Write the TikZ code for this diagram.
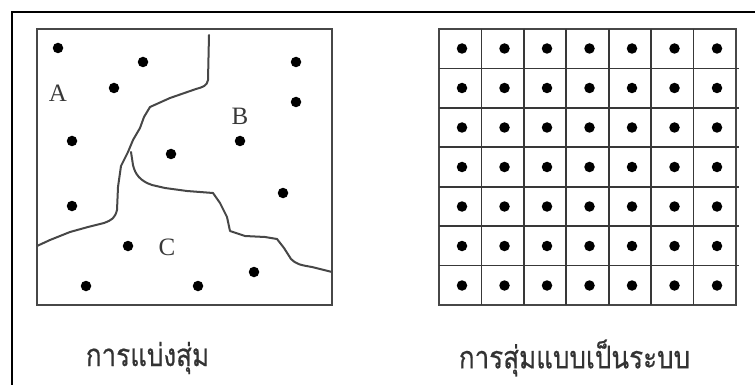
\documentclass[tikz,border=0pt]{standalone}
\usepackage{fontspec}
\setmainfont{Liberation Serif}
\newfontfamily\thaifont[Script=Thai,FakeBold=0.6]{Loma}
\begin{document}
\begin{tikzpicture}[x=1pt,y=-1pt,
  frameline/.style={line width=1.8pt,black},
  boxline/.style={line width=2pt,draw=black!72},
  curveline/.style={line width=2pt,draw=black!72,line join=round,line cap=round},
  gridline/.style={line width=1.8pt,draw=black!78},
  dot/.style={circle,fill=black,inner sep=0pt,minimum size=10.5pt},
  letter/.style={font=\fontsize{25}{27}\selectfont,text=black!78,inner sep=0pt},
  caption/.style={font=\thaifont\fontsize{26}{30}\selectfont,text=black!80,inner sep=0pt}]
\useasboundingbox (0,0) rectangle (755,385);
% outer frame
\coordinate (ftr) at (755,12);
\coordinate (ftl) at (12,12);
\coordinate (fbl) at (12,385);
\draw[frameline] (ftr) -- (ftl) -- (fbl);
% left box
\draw[boxline] (37,29) rectangle (332,305);
\draw[curveline] (209,35) -- (208,80) .. controls (207,86) and (203,87) .. (196,89)
  -- (170,98) -- (150,107) -- (144,117) -- (140,128) -- (133,140) -- (128,152)
  -- (121,166) -- (118,187) -- (117,210) .. controls (115,218) and (112,220) .. (104,223)
  -- (88,227) -- (70,232) -- (50,240) -- (37,246);
\draw[curveline] (131,152) -- (133,165) .. controls (135,174) and (140,181) .. (152,185)
  -- (165,188) -- (187,191) -- (213,193) -- (220,203) -- (227,217) -- (230,231)
  -- (245,236) -- (265,237) -- (277,239) -- (284,248) -- (291,259)
  .. controls (296,264) and (300,265) .. (312,267) -- (332,272);
\foreach \n/\x/\y in {a1/58/48,a2/143/62,a3/114/88,a4/296/62,a5/296/102,a6/72/141,a7/240/141,
  a8/171/154,a9/283/193,a10/72/206,a11/128/246,a12/86/286,a13/198/286,a14/254/272}
  \node[dot] (\n) at (\x,\y) {};
\node[letter] (lA) at (58,93) {A};
\node[letter] (lB) at (240,116) {B};
\node[letter] (lC) at (167,247) {C};
% right grid
\draw[boxline] (439,29) rectangle (736,305);
\foreach \i in {1,...,6} {
  \draw[gridline] ({439+\i*297/7},29) -- ({439+\i*297/7},305);
  \draw[gridline] (439,{29+\i*276/7}) -- (739,{29+\i*276/7});
}
\foreach \c in {0,...,6}
  \foreach \r in {0,...,6}
    \node[dot] (g\c\r) at ({462+\c*42.5},{48.5+\r*39.5}) {};
% captions
\node[caption] (cap1) at (147.5,358) {\scalebox{1}[1.2]{การแบ่งสุ่ม}};
\node[caption] (cap2) at (574.5,358) {\scalebox{1}[1.2]{การสุ่มแบบเป็นระบบ}};
\end{tikzpicture}
\end{document}
